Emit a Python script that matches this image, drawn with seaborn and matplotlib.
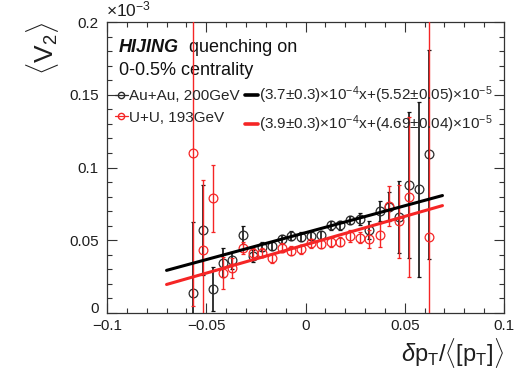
import numpy as np
import pandas as pd
import matplotlib
matplotlib.use("Agg")
import matplotlib.pyplot as plt
from matplotlib.lines import Line2D
from matplotlib.ticker import MultipleLocator
import seaborn as sns

# ---------------- data (v2 in units of 1e-3) ----------------
x_bins = [-0.0567, -0.0516, -0.0466, -0.0418, -0.0368, -0.0317, -0.0267, -0.0219,
          -0.0169, -0.0118, -0.0071, -0.0023, 0.0028, 0.0077, 0.0126, 0.0176,
          0.0224, 0.0275, 0.0322, 0.0373, 0.0422, 0.0471, 0.0523, 0.0573, 0.0624]

auau_v2 = [0.0135, 0.0570, 0.0165, 0.0344, 0.0362, 0.0536, 0.0393, 0.0456,
           0.0460, 0.0506, 0.0532, 0.0525, 0.0530, 0.0533, 0.0602, 0.0602,
           0.0639, 0.0645, 0.0570, 0.0700, 0.0730, 0.0660, 0.0880, 0.0850, 0.1090]
auau_err = [0.049, 0.031, 0.015, 0.010, 0.006, 0.006, 0.004, 0.003,
            0.003, 0.003, 0.003, 0.003, 0.003, 0.003, 0.003, 0.003,
            0.003, 0.004, 0.006, 0.007, 0.010, 0.025, 0.050, 0.060, 0.072]

uu_v2 = [0.1100, 0.0433, 0.0788, 0.0277, 0.0310, 0.0445, 0.0410, 0.0415,
         0.0376, 0.0449, 0.0428, 0.0438, 0.0479, 0.0474, 0.0485, 0.0490,
         0.0529, 0.0518, 0.0508, 0.0536, 0.0735, 0.0630, 0.0800, np.nan, 0.0525]
uu_err = [0.105, 0.048, 0.023, 0.011, 0.007, 0.004, 0.004, 0.003,
          0.003, 0.003, 0.003, 0.003, 0.003, 0.003, 0.003, 0.003,
          0.004, 0.004, 0.006, 0.008, 0.014, 0.025, 0.055, np.nan, 0.300]

# linear fits: slope (1e-4 -> displayed 1e-3 units), intercept
fit_auau = (0.37, 0.0552)
fit_uu = (0.39, 0.0469)
fit_range = (-0.07, 0.069)

series_labels = ["Au+Au, 200GeV", "U+U, 193GeV"]
fit_labels = [r"(3.7$\pm$0.3)$\times$10$^{-4}$x+(5.52$\pm$0.05)$\times$10$^{-5}$",
              r"(3.9$\pm$0.3)$\times$10$^{-4}$x+(4.69$\pm$0.04)$\times$10$^{-5}$"]

x_ticks = [-0.1, -0.05, 0, 0.05, 0.1]
x_ticklabels = ["\u22120.1", "\u22120.05", "0", "0.05", "0.1"]
y_ticks = [0, 0.05, 0.1, 0.15, 0.2]
y_ticklabels = ["0", "0.05", "0.1", "0.15", "0.2"]

# ---------------- style ----------------
sns.set_style("ticks")
plt.rcParams["font.family"] = ["Liberation Sans", "DejaVu Sans"]
plt.rcParams["mathtext.fontset"] = "custom"
plt.rcParams["mathtext.rm"] = "Liberation Sans"
plt.rcParams["mathtext.it"] = "Liberation Sans:italic"
plt.rcParams["mathtext.bf"] = "Liberation Sans:bold"

RED = "#f52525"
INK = "#1e1e1e"

fig = plt.figure(figsize=(5.18, 3.77), dpi=100)
ax = fig.add_axes([107 / 518, 1 - 313 / 377, 397 / 518, 291 / 377])

df_fit = pd.DataFrame({
    "x": np.concatenate([np.linspace(*fit_range, 2)] * 2),
    "sys": ["auau"] * 2 + ["uu"] * 2,
})
df_fit["y"] = np.where(df_fit["sys"] == "auau",
                       fit_auau[0] * df_fit["x"] + fit_auau[1],
                       fit_uu[0] * df_fit["x"] + fit_uu[1])

# data points
ax.errorbar(x_bins, auau_v2, yerr=auau_err, fmt="o", ms=6.3, mfc="none", mec="#2a2a2a",
            mew=0.9, ecolor="#111111", elinewidth=1.2, capsize=1.6, capthick=1.0, zorder=3)
ax.errorbar(x_bins, uu_v2, yerr=uu_err, fmt="o", ms=6.3, mfc="none", mec=RED,
            mew=0.9, ecolor=RED, elinewidth=1.0, capsize=1.6, capthick=1.0, zorder=4)

sns.lineplot(data=df_fit, x="x", y="y", hue="sys", palette={"auau": "black", "uu": RED},
             linewidth=2.2, legend=False, ax=ax, zorder=5)

ax.set_xlim(-0.1, 0.1)
ax.set_ylim(0, 0.2)
ax.set_xticks(x_ticks)
ax.set_xticklabels(x_ticklabels)
ax.set_yticks(y_ticks)
ax.set_yticklabels(y_ticklabels)
ax.xaxis.set_minor_locator(MultipleLocator(0.01))
ax.yaxis.set_minor_locator(MultipleLocator(0.01))
ax.tick_params(which="both", direction="in", top=True, right=True, width=0.8, colors="#333333",
               labelcolor=INK)
ax.tick_params(which="major", length=7)
ax.tick_params(which="minor", length=3.5)
ax.tick_params(axis="x", labelsize=11, pad=4.5)
ax.tick_params(axis="y", labelsize=11, pad=6)
ax.yaxis.get_major_ticks()[0].label1.set_va("baseline")
for s in ax.spines.values():
    s.set_linewidth(0.9)
    s.set_color("#333333")

ax.set_xlabel(r"$\delta\mathrm{p}_{\mathrm{T}}/\langle[\mathrm{p}_{\mathrm{T}}]\rangle$", fontsize=17,
              loc="right", labelpad=2, color=INK)
ax.set_ylabel(r"$\langle\mathrm{V}_{2}\rangle$", fontsize=19, loc="top", labelpad=6, color=INK)

ax.text(-0.002, 1.008, r"$\times$10$^{-3}$", transform=ax.transAxes, ha="left", va="bottom",
        fontsize=12.5, color=INK)

ax.text(0.03, 0.913, "HIJING", transform=ax.transAxes, fontsize=13, fontweight="bold",
        fontstyle="italic", va="center", ha="left", color="#111111")
ax.text(0.207, 0.913, "quenching on", transform=ax.transAxes, fontsize=13, va="center",
        ha="left", color="#111111")
ax.text(0.03, 0.832, "0-0.5% centrality", transform=ax.transAxes, fontsize=13, va="center",
        ha="left", color="#111111")

handles = [
    Line2D([], [], color="#2a2a2a", marker="o", ms=4.5, mfc="none", lw=0.9),
    Line2D([], [], color=RED, marker="o", ms=4.5, mfc="none", lw=0.9),
    Line2D([], [], color="black", lw=2.6),
    Line2D([], [], color=RED, lw=2.6),
]
labels = series_labels + fit_labels
ax.legend(handles, labels, ncol=2, loc="upper left", bbox_to_anchor=(0.02, 0.785),
          frameon=False, fontsize=11, handlelength=0.85, handletextpad=0.1,
          columnspacing=0.32, labelspacing=0.5, borderaxespad=0, borderpad=0)

fig.savefig("out.png", dpi=100)
